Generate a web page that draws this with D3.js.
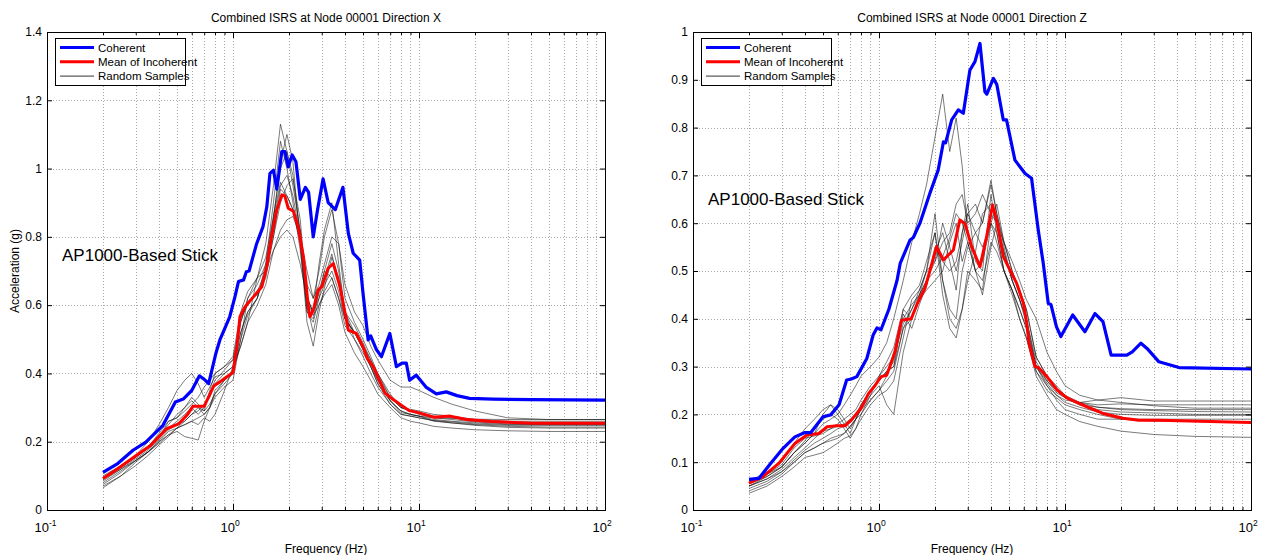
<!DOCTYPE html>
<html><head><meta charset="utf-8">
<script src="https://cdn.jsdelivr.net/npm/d3@7"></script>
<style>
body{margin:0;background:#fff}
svg{display:block}
text{font-family:"Liberation Sans",Arial,Helvetica,sans-serif;fill:#000}
</style>
</head><body>
<svg id="chart" width="1265" height="555"></svg>
<script>
// ---------------- DATA ----------------
const titleX = "Combined ISRS at Node 00001 Direction X";
const titleZ = "Combined ISRS at Node 00001 Direction Z";
const xAxisLabel = "Frequency (Hz)";
const yAxisLabel = "Acceleration (g)";
const annotation = "AP1000-Based Stick";
const legendLabels = ["Coherent", "Mean of Incoherent", "Random Samples"];
const xTickExponents = [-1, 0, 1, 2];
const yTicksX = [0, 0.2, 0.4, 0.6, 0.8, 1.0, 1.2, 1.4];
const yTickLabelsX = ["0", "0.2", "0.4", "0.6", "0.8", "1", "1.2", "1.4"];
const yTicksZ = [0, 0.1, 0.2, 0.3, 0.4, 0.5, 0.6, 0.7, 0.8, 0.9, 1.0];
const yTickLabelsZ = ["0", "0.1", "0.2", "0.3", "0.4", "0.5", "0.6", "0.7", "0.8", "0.9", "1"];

// Direction X - Coherent
const freqCohX = [0.2,0.24,0.29,0.34,0.42,0.49,0.54,0.6,0.66,0.71,0.74,0.81,0.85,0.9,0.96,1.025,1.07,1.14,1.18,1.22,1.34,1.45,1.52,1.58,1.65,1.72,1.83,1.9,1.98,2.08,2.18,2.3,2.45,2.55,2.7,2.85,3.05,3.25,3.55,3.9,4.17,4.43,4.8,5.0,5.33,5.5,5.9,6.28,6.97,7.56,8.1,8.55,8.9,9.67,10.9,12.4,14,16,18.7,25,40,100];
const cohX = [0.11,0.136,0.175,0.199,0.248,0.316,0.325,0.35,0.393,0.38,0.37,0.46,0.498,0.53,0.566,0.625,0.669,0.674,0.698,0.70,0.78,0.83,0.888,0.986,0.995,0.94,1.05,1.05,1.005,1.04,1.02,0.91,0.945,0.93,0.80,0.88,0.97,0.90,0.88,0.945,0.81,0.752,0.732,0.635,0.498,0.51,0.47,0.449,0.517,0.42,0.43,0.43,0.38,0.395,0.36,0.34,0.346,0.335,0.327,0.325,0.323,0.322];
// Direction X - Mean of Incoherent
const freqMeanX = [0.2,0.24,0.294,0.36,0.44,0.51,0.57,0.61,0.70,0.73,0.79,0.855,0.9,1.0,1.05,1.09,1.16,1.29,1.43,1.52,1.61,1.72,1.83,1.9,1.98,2.11,2.24,2.39,2.54,2.59,2.7,2.87,3.0,3.25,3.46,3.76,4.17,4.6,5.0,5.3,5.68,6.2,6.55,7.2,8.85,9.8,12,14.7,18,24.5,41,100];
const meanX = [0.092,0.121,0.155,0.189,0.238,0.252,0.28,0.304,0.304,0.325,0.364,0.376,0.385,0.403,0.48,0.566,0.595,0.625,0.654,0.713,0.80,0.879,0.923,0.92,0.884,0.875,0.83,0.742,0.595,0.566,0.585,0.644,0.654,0.708,0.722,0.654,0.527,0.517,0.478,0.442,0.42,0.374,0.343,0.325,0.291,0.286,0.272,0.275,0.265,0.259,0.254,0.254];
// Direction X - Random Samples
const freqSampX = [0.2,0.25,0.3,0.35,0.4,0.45,0.5,0.55,0.6,0.65,0.7,0.75,0.8,0.9,1.0,1.1,1.2,1.35,1.5,1.65,1.8,1.95,2.1,2.3,2.5,2.7,2.9,3.1,3.4,3.7,4.0,4.5,5.0,5.5,6.0,7.0,8.0,9.0,10,12,15,20,30,50,100];
const samplesX = [
 [0.085,0.12,0.15,0.175,0.21,0.26,0.27,0.30,0.33,0.31,0.29,0.35,0.40,0.42,0.45,0.58,0.64,0.68,0.78,0.95,1.13,1.05,0.98,0.80,0.58,0.55,0.62,0.70,0.78,0.70,0.58,0.50,0.46,0.42,0.37,0.32,0.29,0.28,0.275,0.27,0.268,0.266,0.265,0.265,0.265],
 [0.075,0.11,0.145,0.17,0.20,0.23,0.24,0.26,0.28,0.30,0.29,0.31,0.34,0.37,0.40,0.52,0.58,0.62,0.70,0.85,1.02,1.10,1.02,0.78,0.55,0.48,0.58,0.65,0.74,0.68,0.56,0.52,0.47,0.42,0.37,0.31,0.28,0.275,0.27,0.262,0.258,0.252,0.248,0.248,0.248],
 [0.10,0.13,0.16,0.20,0.25,0.30,0.35,0.38,0.40,0.37,0.33,0.36,0.39,0.40,0.42,0.55,0.62,0.66,0.72,0.84,0.95,0.98,0.92,0.80,0.66,0.62,0.70,0.80,0.88,0.78,0.62,0.55,0.50,0.45,0.40,0.34,0.30,0.295,0.29,0.28,0.275,0.265,0.26,0.26,0.26],
 [0.09,0.12,0.145,0.17,0.195,0.22,0.23,0.215,0.21,0.205,0.26,0.30,0.35,0.38,0.40,0.50,0.62,0.68,0.74,0.86,0.96,0.92,0.88,0.82,0.63,0.57,0.60,0.64,0.68,0.62,0.54,0.50,0.45,0.40,0.36,0.31,0.28,0.275,0.27,0.262,0.255,0.248,0.242,0.24,0.24],
 [0.095,0.125,0.155,0.185,0.22,0.25,0.28,0.30,0.32,0.30,0.28,0.30,0.34,0.38,0.41,0.48,0.55,0.60,0.66,0.76,0.82,0.85,0.86,0.80,0.70,0.62,0.66,0.72,0.80,0.78,0.66,0.58,0.54,0.48,0.44,0.38,0.36,0.36,0.35,0.33,0.31,0.29,0.27,0.265,0.265],
 [0.07,0.10,0.13,0.16,0.19,0.215,0.24,0.25,0.26,0.27,0.28,0.30,0.33,0.36,0.38,0.50,0.57,0.62,0.70,0.86,1.00,1.05,0.95,0.82,0.60,0.52,0.60,0.63,0.66,0.60,0.52,0.46,0.42,0.38,0.34,0.30,0.27,0.26,0.255,0.245,0.24,0.235,0.232,0.23,0.23],
 [0.065,0.10,0.14,0.17,0.205,0.235,0.25,0.26,0.28,0.29,0.31,0.33,0.37,0.40,0.42,0.55,0.61,0.63,0.68,0.80,0.90,0.95,0.97,0.85,0.62,0.58,0.72,0.82,0.90,0.72,0.58,0.52,0.48,0.43,0.38,0.32,0.285,0.28,0.275,0.26,0.255,0.25,0.245,0.243,0.243],
 [0.095,0.13,0.155,0.185,0.225,0.26,0.27,0.29,0.31,0.33,0.36,0.38,0.40,0.42,0.44,0.56,0.60,0.64,0.70,0.76,0.80,0.82,0.80,0.72,0.62,0.58,0.62,0.66,0.70,0.64,0.56,0.52,0.48,0.44,0.40,0.33,0.30,0.29,0.285,0.275,0.27,0.26,0.255,0.254,0.254],
 [0.09,0.125,0.155,0.18,0.21,0.24,0.26,0.28,0.30,0.28,0.30,0.34,0.38,0.41,0.44,0.52,0.58,0.62,0.72,0.90,1.08,1.00,0.90,0.76,0.58,0.56,0.64,0.68,0.75,0.66,0.58,0.54,0.49,0.44,0.39,0.33,0.30,0.29,0.28,0.27,0.265,0.258,0.252,0.25,0.25],
 [0.08,0.115,0.145,0.17,0.20,0.22,0.24,0.25,0.26,0.25,0.27,0.26,0.28,0.35,0.42,0.48,0.55,0.68,0.70,0.80,0.94,0.92,0.88,0.78,0.60,0.58,0.64,0.70,0.68,0.62,0.56,0.52,0.47,0.42,0.38,0.32,0.29,0.28,0.275,0.265,0.26,0.255,0.25,0.25,0.25]
];

// Direction Z - Coherent
const freqCohZ = [0.2,0.226,0.262,0.305,0.353,0.40,0.43,0.50,0.55,0.61,0.67,0.71,0.76,0.86,0.93,0.975,1.025,1.13,1.25,1.30,1.47,1.53,1.66,1.88,2.08,2.22,2.28,2.46,2.67,2.84,3.08,3.28,3.49,3.71,3.8,4.12,4.3,4.66,4.85,5.38,6.1,6.61,7.18,7.64,8.13,8.4,9.0,9.5,11.0,12.8,14.5,16.0,17.7,21.5,23,25.6,27.6,32,41,100];
const cohZ = [0.064,0.066,0.098,0.129,0.153,0.162,0.162,0.195,0.199,0.22,0.272,0.274,0.279,0.317,0.366,0.381,0.377,0.42,0.48,0.516,0.565,0.57,0.60,0.663,0.711,0.77,0.768,0.816,0.837,0.83,0.92,0.938,0.976,0.875,0.87,0.903,0.89,0.816,0.816,0.732,0.704,0.694,0.586,0.516,0.432,0.43,0.383,0.363,0.408,0.373,0.411,0.394,0.324,0.324,0.331,0.349,0.338,0.31,0.298,0.295];
// Direction Z - Mean of Incoherent
const freqMeanZ = [0.2,0.238,0.29,0.353,0.41,0.475,0.525,0.58,0.656,0.71,0.80,0.88,0.95,1.025,1.10,1.22,1.32,1.49,1.6,1.77,2.04,2.22,2.51,2.72,2.9,3.15,3.49,3.79,4.08,4.3,4.66,5.06,5.5,5.98,6.23,6.4,6.9,7.2,8.0,9.06,10.3,11.9,13.1,16,20.5,25,32,100];
const meanZ = [0.056,0.07,0.098,0.139,0.157,0.16,0.174,0.176,0.176,0.188,0.213,0.244,0.26,0.279,0.282,0.331,0.397,0.40,0.43,0.465,0.551,0.523,0.544,0.607,0.599,0.551,0.509,0.572,0.638,0.605,0.53,0.502,0.474,0.432,0.39,0.349,0.30,0.298,0.279,0.251,0.234,0.223,0.216,0.202,0.192,0.188,0.188,0.183];
// Direction Z - Random Samples
const freqSampZ = [0.2,0.25,0.3,0.35,0.4,0.45,0.5,0.55,0.6,0.65,0.7,0.75,0.8,0.9,1.0,1.1,1.2,1.35,1.5,1.65,1.8,2.0,2.2,2.4,2.6,2.8,3.0,3.3,3.6,4.0,4.3,4.7,5.2,5.7,6.2,7.0,8.0,9.0,10,12,15,20,30,50,100];
const samplesZ = [
 [0.05,0.07,0.09,0.12,0.14,0.16,0.18,0.19,0.20,0.22,0.24,0.26,0.28,0.30,0.32,0.35,0.40,0.48,0.56,0.62,0.68,0.78,0.87,0.75,0.82,0.72,0.58,0.50,0.52,0.60,0.56,0.50,0.45,0.40,0.36,0.29,0.26,0.24,0.23,0.225,0.23,0.235,0.228,0.228,0.228],
 [0.06,0.075,0.09,0.12,0.14,0.16,0.20,0.22,0.21,0.19,0.17,0.19,0.22,0.25,0.27,0.29,0.31,0.42,0.40,0.45,0.50,0.62,0.48,0.42,0.40,0.50,0.55,0.58,0.60,0.69,0.62,0.55,0.48,0.44,0.40,0.30,0.27,0.245,0.235,0.225,0.22,0.222,0.22,0.22,0.22],
 [0.04,0.055,0.075,0.10,0.12,0.13,0.14,0.15,0.155,0.16,0.175,0.19,0.20,0.23,0.25,0.27,0.29,0.38,0.42,0.45,0.48,0.52,0.60,0.55,0.50,0.56,0.62,0.58,0.55,0.60,0.58,0.50,0.46,0.40,0.36,0.28,0.24,0.21,0.20,0.185,0.175,0.165,0.158,0.154,0.152],
 [0.035,0.05,0.07,0.09,0.11,0.115,0.12,0.13,0.14,0.15,0.155,0.17,0.19,0.22,0.24,0.25,0.27,0.36,0.44,0.46,0.50,0.58,0.45,0.38,0.36,0.42,0.50,0.48,0.46,0.60,0.64,0.56,0.50,0.46,0.42,0.32,0.28,0.26,0.24,0.225,0.215,0.21,0.208,0.206,0.205],
 [0.06,0.08,0.10,0.14,0.17,0.19,0.21,0.22,0.20,0.18,0.16,0.19,0.21,0.24,0.26,0.22,0.20,0.33,0.40,0.44,0.46,0.48,0.50,0.56,0.60,0.52,0.56,0.50,0.48,0.56,0.54,0.50,0.46,0.42,0.38,0.30,0.265,0.24,0.225,0.215,0.205,0.20,0.198,0.198,0.198],
 [0.05,0.065,0.085,0.11,0.13,0.15,0.165,0.17,0.18,0.19,0.20,0.21,0.23,0.26,0.28,0.30,0.32,0.39,0.42,0.46,0.50,0.52,0.56,0.58,0.64,0.66,0.60,0.62,0.66,0.62,0.60,0.56,0.52,0.48,0.44,0.40,0.33,0.29,0.26,0.24,0.23,0.225,0.218,0.213,0.213],
 [0.045,0.06,0.08,0.105,0.125,0.14,0.15,0.16,0.17,0.175,0.185,0.20,0.22,0.25,0.27,0.29,0.30,0.41,0.38,0.43,0.47,0.54,0.58,0.52,0.46,0.58,0.64,0.52,0.50,0.66,0.58,0.50,0.46,0.42,0.38,0.29,0.25,0.235,0.22,0.21,0.20,0.19,0.186,0.185,0.185],
 [0.055,0.07,0.09,0.12,0.145,0.17,0.19,0.20,0.19,0.17,0.15,0.17,0.20,0.24,0.28,0.31,0.34,0.42,0.45,0.47,0.52,0.58,0.48,0.40,0.38,0.42,0.48,0.54,0.62,0.64,0.60,0.54,0.48,0.44,0.40,0.31,0.27,0.25,0.235,0.22,0.21,0.205,0.203,0.2,0.2],
 [0.05,0.065,0.08,0.10,0.12,0.13,0.14,0.145,0.15,0.16,0.175,0.19,0.21,0.23,0.25,0.28,0.33,0.40,0.43,0.45,0.48,0.50,0.53,0.57,0.62,0.60,0.56,0.50,0.45,0.55,0.60,0.54,0.48,0.44,0.39,0.30,0.26,0.23,0.21,0.20,0.19,0.19,0.19,0.19,0.19],
 [0.06,0.075,0.095,0.13,0.15,0.155,0.16,0.17,0.175,0.18,0.19,0.20,0.215,0.25,0.27,0.29,0.30,0.38,0.40,0.44,0.47,0.55,0.52,0.50,0.52,0.58,0.62,0.64,0.60,0.68,0.62,0.56,0.50,0.46,0.42,0.32,0.28,0.25,0.235,0.22,0.215,0.212,0.21,0.21,0.21]
];

// ---------------- DRAWING ----------------
const svg = d3.select("#chart");
svg.append("rect").attr("width",1265).attr("height",555).attr("fill","#fff");

function zip(f, v){ const n=Math.min(f.length,v.length); const out=[]; for(let i=0;i<n;i++) out.push([f[i],v[i]]); return out; }

function drawPanel(o){
  const x = d3.scaleLog().domain([0.1,100]).range([o.L,o.R]);
  const y = d3.scaleLinear().domain([0,o.ymax]).range([o.B,o.T]);
  const g = svg.append("g");

  // grid
  const minors=[];
  for(let k=-1;k<=1;k++) for(let m=1;m<=9;m++){ const v=m*Math.pow(10,k); if(v>0.1+1e-9 && v<100-1e-9) minors.push(v); }
  g.append("g").selectAll("line").data(minors).join("line")
    .attr("x1",d=>Math.round(x(d))+0.5).attr("x2",d=>Math.round(x(d))+0.5)
    .attr("y1",o.T).attr("y2",o.B)
    .attr("stroke","#a8a8a8").attr("stroke-width",1).attr("stroke-dasharray","1,2");
  g.append("g").selectAll("line").data(o.yTicks.filter(d=>d>0 && d<o.ymax)).join("line")
    .attr("y1",d=>Math.round(y(d))+0.5).attr("y2",d=>Math.round(y(d))+0.5)
    .attr("x1",o.L).attr("x2",o.R)
    .attr("stroke","#a8a8a8").attr("stroke-width",1).attr("stroke-dasharray","1,2");

  // clip
  const cid="clip"+o.id;
  svg.append("defs").append("clipPath").attr("id",cid).append("rect")
    .attr("x",o.L).attr("y",o.T).attr("width",o.R-o.L).attr("height",o.B-o.T);
  const plot = g.append("g").attr("clip-path","url(#"+cid+")");
  const line = d3.line().x(d=>x(d[0])).y(d=>y(d[1]));

  o.samples.forEach(s=>{
    plot.append("path").attr("d",line(zip(o.fSamp,s)))
      .attr("fill","none").attr("stroke","#111").attr("stroke-opacity",0.62).attr("stroke-width",0.9);
  });
  plot.append("path").attr("d",line(zip(o.fMean,o.mean)))
    .attr("fill","none").attr("stroke","#ff0000").attr("stroke-width",3).attr("stroke-linejoin","round");
  plot.append("path").attr("d",line(zip(o.fCoh,o.coh)))
    .attr("fill","none").attr("stroke","#0000ff").attr("stroke-width",3.2).attr("stroke-linejoin","round");

  // axes (ticks inward)
  const majors = xTickExponents.map(e=>Math.pow(10,e));
  const styleAxis = sel => { sel.select(".domain").remove(); sel.selectAll("line").attr("stroke","#000"); };
  const bottom = g.append("g").attr("transform",`translate(0,${o.B})`)
    .call(d3.axisBottom(x).tickValues(majors).tickSizeInner(-6).tickSizeOuter(0).tickFormat(()=>"")).call(styleAxis);
  g.append("g").attr("transform",`translate(0,${o.B})`)
    .call(d3.axisBottom(x).tickValues(minors).tickSizeInner(-3).tickSizeOuter(0).tickFormat(()=>"")).call(styleAxis);
  g.append("g").attr("transform",`translate(0,${o.T})`)
    .call(d3.axisTop(x).tickValues(majors).tickSizeInner(-6).tickSizeOuter(0).tickFormat(()=>"")).call(styleAxis);
  g.append("g").attr("transform",`translate(0,${o.T})`)
    .call(d3.axisTop(x).tickValues(minors).tickSizeInner(-3).tickSizeOuter(0).tickFormat(()=>"")).call(styleAxis);
  g.append("g").attr("transform",`translate(${o.L},0)`)
    .call(d3.axisLeft(y).tickValues(o.yTicks).tickSizeInner(-5).tickSizeOuter(0).tickPadding(5)
      .tickFormat((d,i)=>o.yLabels[i])).call(styleAxis)
    .selectAll("text").attr("font-size",12).attr("font-family","'Liberation Sans',Arial,sans-serif").attr("fill","#000");
  g.append("g").attr("transform",`translate(${o.R},0)`)
    .call(d3.axisRight(y).tickValues(o.yTicks).tickSizeInner(-5).tickSizeOuter(0).tickFormat(()=>"")).call(styleAxis);

  // x tick labels 10^n (one text element with a superscript tspan)
  bottom.selectAll(".tick").each(function(d,i){
    const t = d3.select(this);
    t.select("text").remove();
    const lbl = t.append("text").attr("x",-13).attr("y",22).attr("font-size",13)
      .attr("text-anchor","start").attr("fill","#000");
    lbl.append("tspan").text("10");
    lbl.append("tspan").attr("dy",-6).attr("font-size",8.5).text(String(xTickExponents[i]));
  });

  // box
  g.append("rect").attr("x",o.L+0.5).attr("y",o.T+0.5).attr("width",o.R-o.L).attr("height",o.B-o.T)
    .attr("fill","none").attr("stroke","#000").attr("stroke-width",1);

  // title & labels
  const cx=(o.L+o.R)/2;
  svg.append("text").attr("x",cx).attr("y",22).attr("text-anchor","middle").attr("font-size",12).text(o.title);
  svg.append("text").attr("x",cx).attr("y",553).attr("text-anchor","middle").attr("font-size",12).text(xAxisLabel);
  if(o.ylab){
    svg.append("text").attr("transform",`translate(19,${(o.T+o.B)/2}) rotate(-90)`)
      .attr("text-anchor","middle").attr("font-size",12).text(yAxisLabel);
  }
  svg.append("text").attr("x",o.L+15).attr("y",o.annY).attr("font-size",17).text(annotation);

  // legend
  const lx=o.L+8, ly=o.T+6, lw=130, lh=47;
  const lg = svg.append("g");
  lg.append("rect").attr("x",lx+0.5).attr("y",ly+0.5).attr("width",lw).attr("height",lh)
    .attr("fill","#fff").attr("stroke","#000").attr("stroke-width",1);
  const lcol=["#0000ff","#ff0000","#333"], lwid=[3.2,3,1];
  legendLabels.forEach((t,i)=>{
    const yy = ly+9.5+i*14.3;
    lg.append("line").attr("x1",lx+5).attr("x2",lx+39).attr("y1",yy).attr("y2",yy)
      .attr("stroke",lcol[i]).attr("stroke-width",lwid[i]);
    lg.append("text").attr("x",lx+43).attr("y",yy+4).attr("font-size",11.5).text(t);
  });
}

drawPanel({id:"X",L:47,R:605,T:32,B:510,ymax:1.4,yTicks:yTicksX,yLabels:yTickLabelsX,title:titleX,ylab:true,annY:261,
  fCoh:freqCohX,coh:cohX,fMean:freqMeanX,mean:meanX,fSamp:freqSampX,samples:samplesX});
drawPanel({id:"Z",L:693,R:1251,T:32,B:510,ymax:1.0,yTicks:yTicksZ,yLabels:yTickLabelsZ,title:titleZ,ylab:false,annY:205,
  fCoh:freqCohZ,coh:cohZ,fMean:freqMeanZ,mean:meanZ,fSamp:freqSampZ,samples:samplesZ});
</script>
</body></html>
